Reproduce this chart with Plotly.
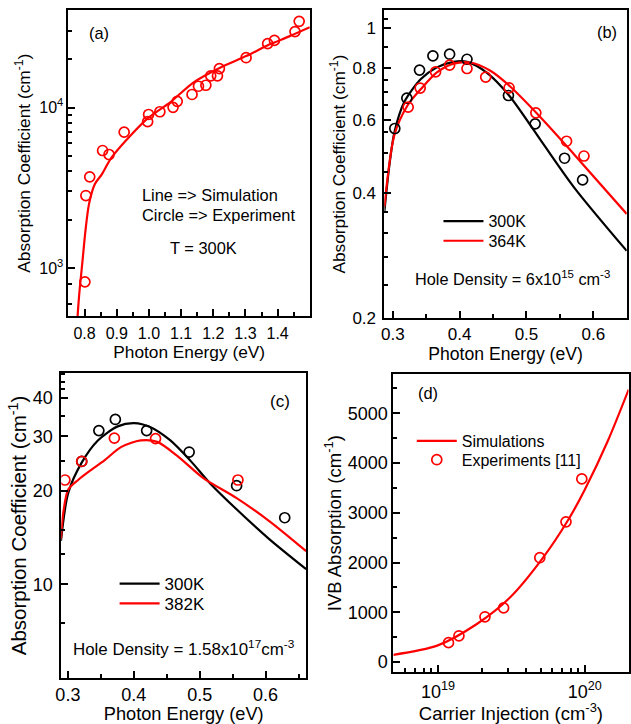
import plotly.graph_objects as go

W, H = 631, 724

# ---------------- Panel (a) ----------------
a_exp_energy = [0.801, 0.804, 0.816, 0.856, 0.876, 0.923, 0.996, 0.999, 1.034, 1.075, 1.088,
                1.134, 1.154, 1.177, 1.192, 1.213, 1.219, 1.302, 1.369, 1.390, 1.454, 1.467]
a_exp_alpha = [820, 2830, 3700, 5400, 5100, 7030, 8170, 9060, 9420, 10040, 10940,
               12070, 13590, 13780, 15790, 15790, 17500, 20470, 25060, 26240, 29780, 34500]
a_sim_energy = [0.776, 0.783, 0.793, 0.803, 0.814, 0.832, 0.854, 0.883, 0.945, 0.996,
                1.067, 1.139, 1.221, 1.302, 1.374, 1.436, 1.50]
a_sim_alpha = [430, 673, 1078, 1730, 2520, 3340, 3850, 4860, 6770, 8570,
               10830, 14380, 17740, 20940, 24700, 27800, 31700]

# ---------------- Panel (b) ----------------
b_exp300_energy = [0.303, 0.321, 0.340, 0.360, 0.385, 0.411, 0.473, 0.513, 0.557, 0.584]
b_exp300_alpha = [0.572, 0.677, 0.791, 0.856, 0.864, 0.840, 0.687, 0.587, 0.485, 0.430]
b_exp364_energy = [0.323, 0.341, 0.364, 0.385, 0.411, 0.439, 0.474, 0.514, 0.560, 0.586]
b_exp364_alpha = [0.644, 0.716, 0.783, 0.813, 0.798, 0.761, 0.717, 0.624, 0.533, 0.491]
b_sim300_energy = [0.2875, 0.295, 0.3025, 0.317, 0.342, 0.366, 0.391, 0.411, 0.440, 0.474,
                   0.523, 0.572, 0.650]
b_sim300_alpha = [0.362, 0.468, 0.561, 0.662, 0.753, 0.803, 0.828, 0.828, 0.781, 0.687,
                  0.531, 0.411, 0.290]
b_sim364_energy = [0.2875, 0.3025, 0.322, 0.342, 0.366, 0.391, 0.416, 0.446, 0.474,
                   0.523, 0.572, 0.650]
b_sim364_alpha = [0.371, 0.553, 0.650, 0.712, 0.781, 0.820, 0.825, 0.788, 0.726,
                  0.604, 0.494, 0.356]

# ---------------- Panel (c) ----------------
c_exp300_energy = [0.321, 0.347, 0.372, 0.4195, 0.484, 0.556, 0.629]
c_exp300_alpha = [24.9, 31.3, 34.0, 31.3, 26.7, 20.8, 16.4]
c_exp382_energy = [0.2955, 0.321, 0.3705, 0.433, 0.558]
c_exp382_alpha = [21.7, 24.9, 29.6, 29.5, 21.7]
c_sim300_energy = [0.2895, 0.3005, 0.3205, 0.3455, 0.3755, 0.4005, 0.4255, 0.4555,
                   0.4855, 0.5155, 0.5555, 0.6055, 0.6615]
c_sim300_alpha = [13.8, 19.7, 24.6, 29.1, 32.3, 33.1, 32.1, 29.1, 25.1, 21.2, 17.5, 14.0, 11.2]
c_sim382_energy = [0.2895, 0.293, 0.3005, 0.3155, 0.3355, 0.3555, 0.3805, 0.4105, 0.4355,
                   0.4655, 0.5055, 0.5555, 0.6055, 0.6615]
c_sim382_alpha = [14.0, 17.0, 20.2, 21.7, 23.4, 25.1, 27.7, 29.1, 28.8, 26.0, 22.0, 19.0,
                  16.0, 12.8]

# ---------------- Panel (d) ----------------
d_exp_injection = [1.18e19, 1.39e19, 2.09e19, 2.80e19, 4.94e19, 7.45e19, 9.55e19]
d_exp_absorption = [390, 528, 910, 1088, 2097, 2817, 3680]
d_sim_injection = [4.97e18, 9.88e18, 1.83e19, 3.07e19, 5.14e19, 7.76e19, 1.0e20, 1.44e20, 1.99e20]
d_sim_absorption = [146, 330, 760, 1286, 2078, 2869, 3463, 4452, 5475]

RED = "#ff0000"
BLACK = "#000000"
FONT = "Liberation Sans, Arial, sans-serif"


def px(x):
    return x / W


def py(y):
    return 1 - y / H


def line_trace(x, y, color, xa, ya, name=None, legend=None, show=False):
    return go.Scatter(x=x, y=y, mode="lines", line=dict(color=color, width=2.2, shape="spline", smoothing=0.8),
                      xaxis=xa, yaxis=ya, name=name, legend=legend, showlegend=show)


def circ_trace(x, y, color, xa, ya, name=None, legend=None, show=False):
    return go.Scatter(x=x, y=y, mode="markers",
                      marker=dict(symbol="circle-open", size=10, color=color, line=dict(width=1.7, color=color)),
                      xaxis=xa, yaxis=ya, name=name, legend=legend, showlegend=show)


fig = go.Figure()
# (a)
fig.add_trace(line_trace(a_sim_energy, a_sim_alpha, RED, "x", "y"))
fig.add_trace(circ_trace(a_exp_energy, a_exp_alpha, RED, "x", "y"))
# (b)
fig.add_trace(line_trace(b_sim300_energy, b_sim300_alpha, BLACK, "x2", "y2", "300K", "legend", True))
fig.add_trace(line_trace(b_sim364_energy, b_sim364_alpha, RED, "x2", "y2", "364K", "legend2", True))
fig.add_trace(circ_trace(b_exp300_energy, b_exp300_alpha, BLACK, "x2", "y2"))
fig.add_trace(circ_trace(b_exp364_energy, b_exp364_alpha, RED, "x2", "y2"))
# (c)
fig.add_trace(line_trace(c_sim300_energy, c_sim300_alpha, BLACK, "x3", "y3", "300K", "legend3", True))
fig.add_trace(line_trace(c_sim382_energy, c_sim382_alpha, RED, "x3", "y3", "382K", "legend4", True))
fig.add_trace(circ_trace(c_exp300_energy, c_exp300_alpha, BLACK, "x3", "y3"))
fig.add_trace(circ_trace(c_exp382_energy, c_exp382_alpha, RED, "x3", "y3"))
# (d)
fig.add_trace(line_trace(d_sim_injection, d_sim_absorption, RED, "x4", "y4", "Simulations", "legend5", True))
fig.add_trace(circ_trace(d_exp_injection, d_exp_absorption, RED, "x4", "y4", "Experiments [11]", "legend6", True))


def axis(fs, **kw):
    base = dict(showline=True, linecolor="black", linewidth=2, mirror=True,
                ticks="inside", ticklen=7, tickwidth=1.5, tickcolor="black",
                showgrid=False, zeroline=False,
                tickfont=dict(size=fs, color="black", family=FONT))
    base.update(kw)
    return base


def minor(vals):
    return dict(tickvals=vals, ticks="inside", ticklen=4, tickwidth=1.5, tickcolor="black", showgrid=False)


def title(text, standoff, fs):
    return dict(text=text, font=dict(size=fs, color="black", family=FONT), standoff=standoff)


ytitle = "Absorption Coefficient (cm<sup>-1</sup>)"
xtitle = "Photon Energy (eV)"

layout = dict(
    width=W, height=H, margin=dict(l=0, r=0, t=0, b=0),
    paper_bgcolor="white", plot_bgcolor="white",
    font=dict(family=FONT, color="black"),
    xaxis=axis(16, domain=[px(63.3), px(307.7)], anchor="y", range=[0.75, 1.5],
               tickvals=[0.8, 0.9, 1.0, 1.1, 1.2, 1.3, 1.4],
               ticktext=["0.8", "0.9", "1.0", "1.1", "1.2", "1.3", "1.4"],
               minor=minor([0.85, 0.95, 1.05, 1.15, 1.25, 1.35, 1.45]),
               ticklabelstandoff=2,
               title=title(xtitle, 0, 17.3)),
    yaxis=axis(16, domain=[py(320.7), py(10.3)], anchor="x", type="log", range=[2.699, 4.6075],
               tickvals=[1000, 10000], ticktext=["10<sup>3</sup>", "10<sup>4</sup>"],
               minor=minor([600, 800, 2000, 3000, 4000, 5000, 6000, 7000, 8000, 9000, 20000, 30000]),
               title=title(ytitle, 4, 17.3)),
    xaxis2=axis(17, domain=[px(383.3), px(628.7)], anchor="y2", range=[0.2875, 0.65],
                tickvals=[0.3, 0.4, 0.5, 0.6], ticktext=["0.3", "0.4", "0.5", "0.6"],
                minor=minor([0.35, 0.45, 0.55]),
                ticklabelstandoff=0,
                title=title(xtitle, 0, 17.6)),
    yaxis2=axis(17, domain=[py(322.3), py(10.5)], anchor="x2", type="log", range=[-0.699, 0.0422],
                tickvals=[0.2, 0.4, 0.6, 0.8, 1.0], ticktext=["0.2", "0.4", "0.6", "0.8", "1"],
                minor=minor([0.24, 0.28, 0.32, 0.36, 0.45, 0.5, 0.56, 0.65, 0.7, 0.75, 0.9, 1.05]),
                ticklabelstandoff=3,
                title=title(ytitle, 2, 17.3)),
    xaxis3=axis(18, domain=[px(56), px(304)], anchor="y3", range=[0.29, 0.6615],
                tickvals=[0.3, 0.4, 0.5, 0.6], ticktext=["0.3", "0.4", "0.5", "0.6"],
                minor=minor([0.35, 0.45, 0.55, 0.65]),
                ticklabelstandoff=0,
                title=title(xtitle, 2, 18.2)),
    yaxis3=axis(18, domain=[py(687.3), py(378.3)], anchor="x3", type="log", range=[0.699, 1.681],
                tickvals=[10, 20, 30, 40], ticktext=["10", "20", "30", "40"],
                minor=minor([7.5, 12.5, 15, 25, 35, 42.5, 45, 47.5]),
                ticklabelstandoff=3,
                title=title(ytitle, 0, 20.5)),
    xaxis4=axis(18, domain=[px(392.3), px(630.5)], anchor="y4", type="log", range=[18.696, 20.298],
                tickvals=[1e19, 1e20], ticktext=["10<sup>19</sup>", "10<sup>20</sup>"],
                minor=minor([6e18, 7e18, 8e18, 9e18, 2e19, 3e19, 4e19, 5e19, 6e19, 7e19, 8e19, 9e19, 2e20]),
                ticklabelstandoff=2,
                title=title("Carrier Injection (cm<sup>-3</sup>)", 1, 18.5)),
    yaxis4=axis(18, domain=[py(681.7), py(379.3)], anchor="x4", range=[-205, 5786],
                tickvals=[0, 1000, 2000, 3000, 4000, 5000],
                minor=minor([500, 1500, 2500, 3500, 4500, 5500]),
                title=title("IVB Absorption (cm<sup>-1</sup>)", 1, 18.5)),
)


def leg(line_start, y_center, fs):
    # sample line starts ~7 px right of legend x, item centre ~14 px below legend top
    return dict(bgcolor="rgba(0,0,0,0)", borderwidth=0, font=dict(size=fs, color="black", family=FONT),
                xanchor="left", yanchor="top", tracegroupgap=0, itemwidth=40,
                x=px(line_start - 7), y=py(y_center - 14))


layout["legend"] = leg(445, 221, 16)
layout["legend2"] = leg(445, 241, 16)
layout["legend3"] = leg(117, 588, 17)
layout["legend4"] = leg(117, 608, 17)
layout["legend5"] = leg(418, 444, 16)
layout["legend6"] = leg(418, 463, 16)

fig.update_layout(**layout)


def note(text, x, y, fs, xanchor="left"):
    fig.add_annotation(text=text, x=px(x), y=py(y), xref="paper", yref="paper",
                       xanchor=xanchor, yanchor="middle", showarrow=False,
                       font=dict(size=fs, color="black", family=FONT))


note("(a)", 94, 33, 16.4, "center")
note("Line => Simulation", 136, 198, 16.4)
note("Circle => Experiment", 136, 218, 16.4)
note("T = 300K", 164, 251, 16.4)
note("(b)", 608.5, 32, 16.4, "center")
note("Hole Density = 6x10<sup>15</sup> cm<sup>-3</sup>", 412, 282, 16.3)
note("(c)", 278, 407, 17, "center")
note("Hole Density = 1.58x10<sup>17</sup>cm<sup>-3</sup>", 66, 657, 16.9)
note("(d)", 427, 399, 16.4, "center")

fig.write_html("out.html", config={"displayModeBar": False},
               post_script="document.body.style.margin='0';document.body.style.padding='0';")
